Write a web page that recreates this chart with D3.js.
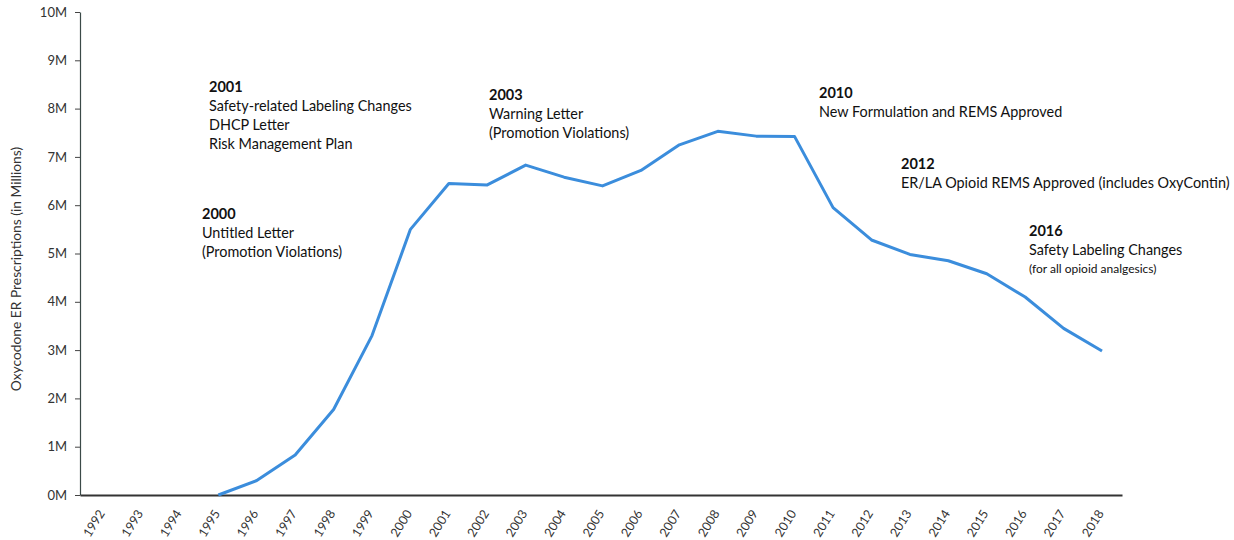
<!DOCTYPE html>
<html>
<head>
<meta charset="utf-8">
<script src="https://cdn.jsdelivr.net/npm/d3@7"></script>
<style>
  body { margin: 0; background: #fff; }
  text { font-family: Lato, "Open Sans", sans-serif; }
</style>
</head>
<body>
<svg id="chart" width="1234" height="540"></svg>
<script>
// data
var years = d3.range(1992, 2019);
var scripts = [null, null, null, 0, 0.3, 0.83, 1.77, 3.3, 5.5, 6.45, 6.42, 6.83, 6.58, 6.4,
  6.72, 7.25, 7.53, 7.43, 7.42, 5.95, 5.28, 4.98, 4.85, 4.58, 4.1, 3.45, 2.98];
var yTicks = d3.range(0, 11);

var notes = [
  { year: "2001", lines: ["Safety-related Labeling Changes", "DHCP Letter", "Risk Management Plan"] },
  { year: "2000", lines: ["Untitled Letter", "(Promotion Violations)"] },
  { year: "2003", lines: ["Warning Letter", "(Promotion Violations)"] },
  { year: "2010", lines: ["New Formulation and REMS Approved"] },
  { year: "2012", lines: ["ER/LA Opioid REMS Approved (includes OxyContin)"] },
  { year: "2016", lines: ["Safety Labeling Changes", "(for all opioid analgesics)"] }
];
// where each note block sits (left, first baseline)
var notePos = [[209, 92], [202, 219], [489, 100], [819, 98], [901, 169], [1029, 236]];

var svg = d3.select("#chart");

var x = d3.scaleLinear().domain([1991.4, 2018.52]).range([80, 1122]);
var y = d3.scaleLinear().domain([0, 10]).range([495, 12]);

// y axis
var yAxis = svg.append("g")
  .attr("transform", "translate(80,0)")
  .call(d3.axisLeft(y).tickValues(yTicks).tickFormat(function (d) { return d + "M"; })
    .tickSize(5).tickSizeOuter(0).tickPadding(8));
yAxis.select(".domain").attr("stroke", "#3b4a48").attr("stroke-width", 1.2);
yAxis.selectAll(".tick line").attr("stroke", "#444");
yAxis.selectAll("text").attr("font-size", 13).attr("fill", "#333");

// x axis
var xAxis = svg.append("g")
  .attr("transform", "translate(0,495)")
  .call(d3.axisBottom(x).tickValues(years).tickFormat(d3.format("d")).tickSize(0).tickSizeOuter(0));
xAxis.select(".domain").attr("stroke", "#333").attr("stroke-width", 2);
xAxis.selectAll("text")
  .attr("font-size", 12.5)
  .attr("fill", "#333")
  .attr("text-anchor", "end")
  .attr("transform", "translate(-2,16) rotate(-58)")
  .attr("dy", "0.35em")
  .attr("y", 0);

// y title
svg.append("text")
  .attr("transform", "translate(21,269) rotate(-90)")
  .attr("text-anchor", "middle")
  .attr("font-size", 13.8)
  .attr("fill", "#333")
  .text("Oxycodone ER Prescriptions (in Millions)");

// the line
var line = d3.line()
  .defined(function (d) { return d != null; })
  .x(function (d, i) { return x(years[i]); })
  .y(function (d) { return y(d); });

svg.append("path")
  .datum(scripts)
  .attr("fill", "none")
  .attr("stroke", "#3b8ddc")
  .attr("stroke-width", 3)
  .attr("stroke-linejoin", "round")
  .attr("d", line);

// notes
notes.forEach(function (n, k) {
  var g = svg.append("g").attr("transform", "translate(" + notePos[k][0] + "," + notePos[k][1] + ")");
  g.append("text").attr("font-size", 14.5).attr("font-weight", "bold").attr("fill", "#111").text(n.year);
  n.lines.forEach(function (t, j) {
    var small = t.indexOf("(for") == 0;
    g.append("text")
      .attr("y", 19 * (j + 1) - (small ? 1 : 0))
      .attr("font-size", small ? 12 : 14.4)
      .attr("fill", "#111")
      .text(t);
  });
});
</script>
</body>
</html>
